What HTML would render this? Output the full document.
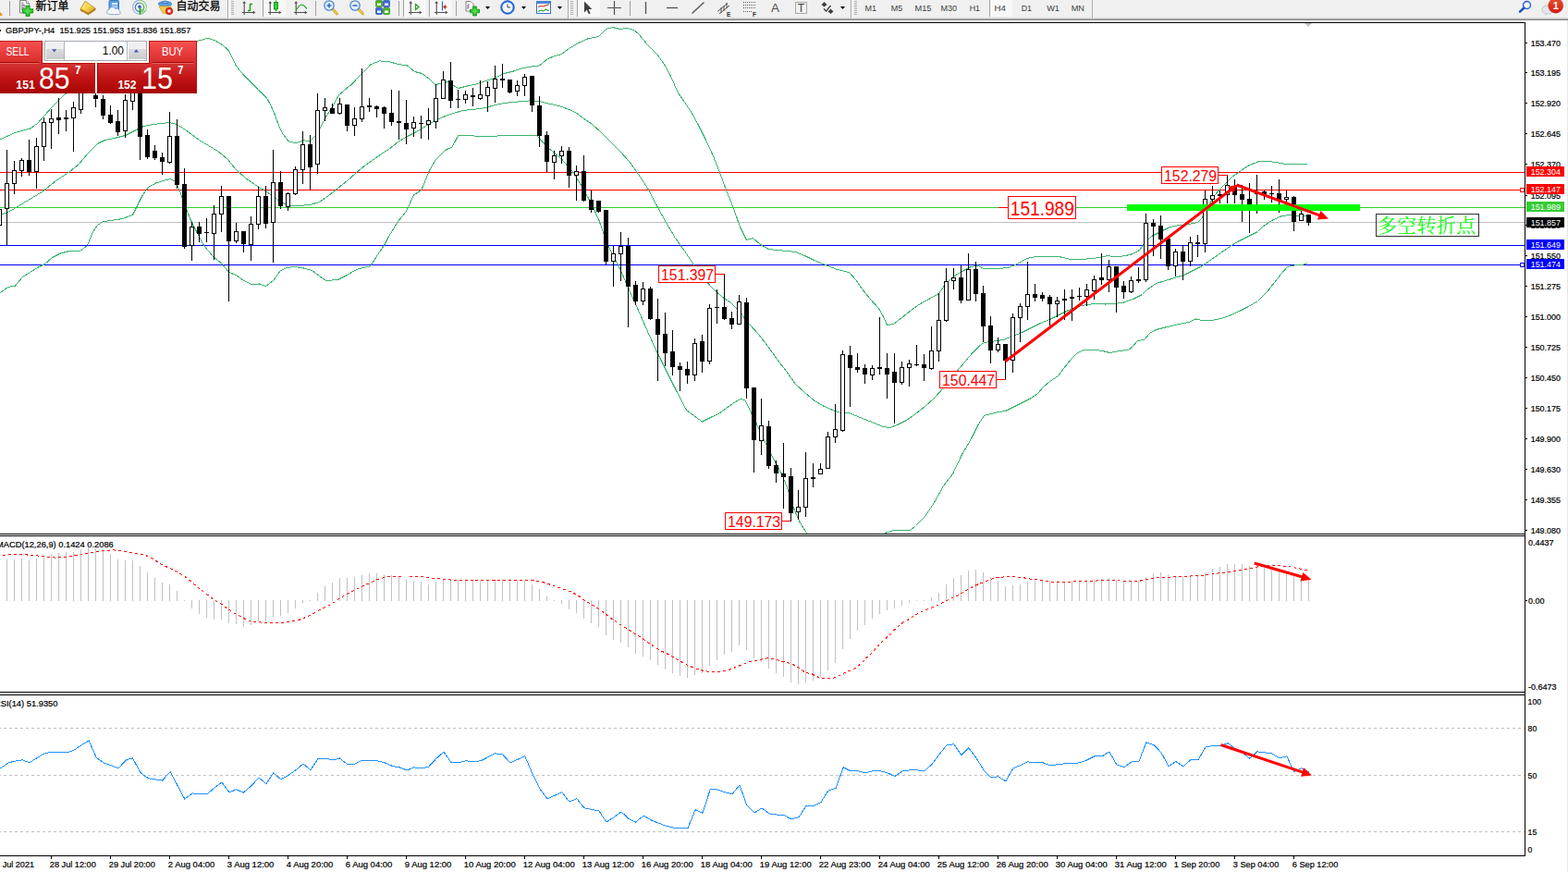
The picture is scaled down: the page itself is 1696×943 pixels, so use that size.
<!DOCTYPE html><html><head><meta charset="utf-8"><title>GBPJPY H4</title><style>html,body{margin:0;padding:0;background:#fff}body{width:1696px;height:943px;overflow:hidden}svg{display:block}text{font-family:"Liberation Sans",sans-serif;white-space:pre}</style></head><body>
<svg width="1696" height="943" viewBox="0 0 1696 943">
<defs>
<clipPath id="cm"><rect x="0" y="25" width="1649" height="552"/></clipPath>
<linearGradient id="gsell" x1="0" y1="0" x2="0" y2="1"><stop offset="0" stop-color="#f85252"/><stop offset="1" stop-color="#d82c2c"/></linearGradient>
<linearGradient id="gtile" x1="0" y1="0" x2="0" y2="1"><stop offset="0" stop-color="#d63434"/><stop offset="0.5" stop-color="#c01414"/><stop offset="1" stop-color="#a80404"/></linearGradient>
<linearGradient id="gbtn" x1="0" y1="0" x2="0" y2="1"><stop offset="0" stop-color="#dcdcde"/><stop offset="1" stop-color="#cacacc"/></linearGradient>
<linearGradient id="gbadge" x1="0" y1="0" x2="0" y2="1"><stop offset="0" stop-color="#e85030"/><stop offset="1" stop-color="#d01c10"/></linearGradient>
<radialGradient id="gplus" cx="0.5" cy="0.5" r="0.6"><stop offset="0" stop-color="#58ec58"/><stop offset="1" stop-color="#18b018"/></radialGradient>
<linearGradient id="gbook" x1="0" y1="0" x2="1" y2="1"><stop offset="0" stop-color="#f0c040"/><stop offset="0.45" stop-color="#fadc50"/><stop offset="1" stop-color="#cc9420"/></linearGradient>
</defs>
<rect width="1696" height="943" fill="#fff"/>
<g shape-rendering="crispEdges">
<g clip-path="url(#cm)">
<rect x="0" y="186" width="1649" height="1" fill="#ff0000"/>
<rect x="0" y="205" width="1649" height="1" fill="#ff0000"/>
<rect x="0" y="224" width="1649" height="1" fill="#32cd32"/>
<rect x="0" y="240" width="1649" height="1" fill="#c0c0c0"/>
<rect x="0" y="265" width="1649" height="1" fill="#0000ff"/>
<rect x="0" y="286" width="1649" height="1" fill="#0000ff"/>
<polyline points="0.5,150.5 16.5,143.5 32.5,139 40.5,133.5 48.5,124.5 56.5,115.5 64.5,107.5 68.5,103.5 100.5,75.5 150.5,58.5 190.5,49.5 205.5,46 212.5,44.5 215.6,43.9 224.4,41.4 232.3,43.6 240.3,48.4 247.4,54.7 251.4,62.7 255.4,71.4 264.1,81.8 272.1,89.7 280,97.7 288.8,106.4 292.8,113.6 297.5,124.7 302.3,137.5 306.3,145.4 311.9,152.6 319.8,154.9 327.8,151.8 335.7,152.6 340.5,147.8 346.1,139 351.6,127.9 359.6,115.2 366.7,102.5 372.3,97.7 380.3,91.3 391.4,79.4 400.9,69.8 410.5,65.9 420.5,66.5 430.5,69.5 440.5,71 448.5,77.5 456.5,79.5 464.5,85.5 470.5,91.5 476.5,90.5 484.5,88.5 495.5,95.5 505.5,93 515.5,91 525.5,87.5 535.5,84 545.5,79.5 555.5,77 565.5,73.5 575.5,72 583.5,71 592.5,63.5 600.5,60.5 607.5,58.5 615.5,52.5 625.5,46.5 635.5,42 647.5,39.5 655.5,31.5 662.5,29.5 670.5,31.5 678.5,30.5 685.5,32.5 690.5,36.5 700.5,48.5 710.5,58.5 718.5,69.5 725.5,82.5 733.5,100.5 740.5,110.5 748.5,122.5 755.5,135.5 762.5,149.5 770.5,166.5 778.5,186.5 785.5,205.5 793.5,225.5 800.5,245.5 807.5,259.5 814.5,257.5 822.5,264.5 831.5,269.5 845.5,271 860.5,272.5 870.5,276.5 880.5,281.5 890.5,285.5 905.5,291.5 918.5,294.5 925.5,302.5 932.5,312.5 940.5,322.5 950.5,333.5 955.5,342.5 959.5,351.5 966.5,350.5 975.5,343.5 985.5,335.5 995.5,328.5 1005.5,323 1015.5,317.5 1022.5,307.5 1030.5,299.5 1040.5,293.5 1050.5,288.5 1057.5,287 1063.5,290.5 1075.5,291 1090.5,289.5 1100.5,285.5 1110.5,279.5 1120.5,277.5 1135.5,277.5 1147.5,278 1160.5,281 1175.5,280 1190.5,278.5 1197.5,276.5 1207.5,278 1217.5,276.5 1225.5,274.5 1232.5,270.5 1238.5,262.5 1245.5,255.5 1255.5,250.5 1265.5,245.5 1275.5,243.5 1285.5,242.5 1295.5,240.5 1300.5,235.5 1306.5,224.5 1312.5,212.5 1322.5,201.5 1332.5,191.5 1342.5,184.5 1350.5,179 1360.5,175 1370.5,174.5 1380.5,175.5 1390.5,177.5 1400.5,178 1414.5,177.5" fill="none" stroke="#3cb371" stroke-width="1" />
<polyline points="0.5,232.5 10.5,228.5 20.5,222.5 30.5,216.5 45.5,207.5 60.5,195.5 75.5,185.5 85.5,177.5 95.5,165.5 105.5,155.5 113.5,151.5 125.5,149 135.5,146.5 145.5,141.5 155.5,136.5 165.5,134.5 175.5,133.5 183.5,132.5 190.5,134.5 197.5,138.5 205.5,144 215.5,151.5 225.5,157.5 235.5,163.5 245.5,171.5 255.5,183.5 265.5,192.5 275.5,199.5 285.5,205.5 295.5,212.5 303.5,218.5 312.5,222 322.5,222.5 335.5,221.5 345.5,218.5 355.5,211.5 365.5,203.5 375.5,195.5 385.5,186.5 395.5,178.5 405.5,171.5 415.5,164.5 420.5,161.5 430.5,153.5 440.5,147.5 450.5,142.5 460.5,136.5 470.5,130.5 480.5,126 490.5,122.5 500.5,119.5 515.5,118 525.5,116.5 535.5,113.5 545.5,111.5 560.5,110 572.5,109 583.5,109.5 590.5,111.5 600.5,113.5 607.5,115.5 615.5,118.5 622.5,121.5 630.5,127.5 640.5,134.5 650.5,143.5 660.5,153.5 670.5,163.5 680.5,174.5 690.5,188.5 700.5,203.5 710.5,222.5 720.5,240.5 730.5,257.5 740.5,271.5 750.5,286.5 760.5,300.5 770.5,311.5 780.5,320.5 790.5,327.5 800.5,337.5 810.5,350.5 820.5,361.5 830.5,374.5 840.5,388.5 850.5,401.5 860.5,415.5 870.5,424.5 880.5,433 890.5,439 900.5,443.5 910.5,447 918.5,446.5 925.5,449.5 935.5,453.5 945.5,457.5 955.5,461.5 962.5,462.5 970.5,459.5 980.5,454.5 990.5,447.5 1000.5,439.5 1010.5,430.5 1020.5,419.5 1030.5,407.5 1035.5,401 1043.5,391.5 1051.5,382 1059.5,374 1064.5,370.5 1075.5,369 1085.5,367.5 1095.5,363.5 1105.5,359.5 1115.5,354.5 1125.5,349.5 1135.5,345.5 1145.5,340.5 1155.5,335.5 1165.5,331.5 1175.5,329.5 1185.5,328.5 1195.5,329 1205.5,328.5 1215.5,327 1225.5,323.5 1235.5,318.5 1240.5,313.5 1250.5,306.5 1260.5,303.5 1270.5,300.5 1280.5,297.5 1290.5,292.5 1300.5,287.5 1310.5,280.5 1320.5,273.5 1330.5,266.5 1340.5,260.5 1350.5,255.5 1360.5,250.5 1365.5,245.5 1375.5,238.5 1385.5,234 1393.5,232.5 1400.5,233.5 1414.5,233" fill="none" stroke="#3cb371" stroke-width="1" />
<polyline points="0.5,316.5 8.5,310.5 16.5,309 24.5,299.5 32.5,294.5 40.5,289.5 48.5,285.5 56.5,278.5 65.5,274 75.5,271.5 87.5,271 94.5,265.5 100.5,250.5 105.5,243.5 111.5,239.5 120.5,238.5 132.5,236.5 143.5,232.5 148.5,222.5 154.5,210.5 160.5,202.5 168.5,198 176.5,195.5 183.5,193.5 188.5,195.5 193.5,203.5 199.5,220.5 205.5,236.5 212.5,250.5 220.5,265.5 230.5,277.5 240.5,285.5 247.5,294.5 255.5,297.5 263.5,303.5 272.5,307.5 280.5,307 287.5,309.5 295.5,303.5 303.5,292.5 310.5,289.5 318.5,288.5 328.5,290 337.5,292.5 345.5,298.5 352.5,303.5 365.5,302.5 375.5,297.5 385.5,291.5 392.5,289.5 400.5,288 408.5,275.5 415.5,265.5 420.5,255.5 424.5,249.5 430,240 439.5,228.5 447.2,211.3 455.8,205.5 464.4,184.5 471.1,173.1 481.5,162.5 489.2,158.8 495.9,146 500.5,146.5 525.5,147.5 550.5,146.5 580.5,146.5 592.5,159.5 607.5,172 620.5,187 632.5,207 640.5,222 647.5,237 655.5,260.5 662.5,275.5 670.5,290.5 680.5,313.5 690.5,335.5 700.5,358.5 710.5,380.5 720.5,400.5 730.5,420.5 742.5,443.5 750.5,449.5 759.5,456 768.5,451.5 777.5,447.5 785.5,441.5 792.5,436.5 800.5,431.5 805.5,432.5 808.5,437.5 813.5,448.5 818.5,458.5 825.5,473.5 832.5,488.5 838.5,499.5 845.5,512.5 851.5,527.5 856.5,543.5 860.5,554.5 865.5,565.5 872.5,576.5 876.5,582.5" fill="none" stroke="#3cb371" stroke-width="1" />
<polyline points="953.5,582.5 958.5,575.8 965.5,574 975.5,573.5 984.5,573.5 990.5,568.5 1000.5,558.5 1010.5,543.5 1020.5,525.5 1030.5,512.5 1040.5,491.5 1050.5,474.5 1058.5,458.5 1064.5,449.5 1075.5,446.5 1087.5,444.5 1095.5,440.5 1105.5,435.5 1115.5,430.5 1122.5,425.5 1128.5,418.5 1135.5,412.5 1144.5,406.5 1150.5,398.5 1158.5,388.5 1165.5,381.5 1172.5,378.5 1185.5,378.5 1192.5,379.5 1200.5,381.5 1210.5,379.5 1220.5,378.5 1225.5,374.5 1230.5,368.5 1237.5,367.5 1243.5,360.5 1250.5,356.5 1260.5,354 1275.5,350.5 1285.5,348.5 1293.5,345 1300.5,346.5 1310.5,346.5 1320.5,344.5 1330.5,341 1340.5,336.5 1350.5,331.5 1360.5,325.5 1370.5,315.5 1378.5,305.5 1385.5,296.5 1392.5,288.5 1400.5,287 1408.5,286.5 1414.5,284.5" fill="none" stroke="#3cb371" stroke-width="1" />
<path d="M-1 226v18h1v-18zM7 162v103h1v-103zM15 174v36h1v-36zM23 171v20h1v-20zM31 151v39h1v-39zM39 149v55h1v-55zM47 127v47h1v-47zM55 118v43h1v-43zM63 106v39h1v-39zM71 119v23h1v-23zM79 110v54h1v-54zM87 95v28h1v-28zM95 95v5h1v-5zM103 100v16h1v-16zM111 103v26h1v-26zM119 114v20h1v-20zM127 119v28h1v-28zM135 102v47h1v-47zM143 95v24h1v-24zM151 98v75h1v-75zM159 140v32h1v-32zM167 157v16h1v-16zM175 165v24h1v-24zM183 121v56h1v-56zM191 129v75h1v-75zM199 182v87h1v-87zM207 240v42h1v-42zM215 240v22h1v-22zM223 236v26h1v-26zM231 222v59h1v-59zM239 201v50h1v-50zM247 212v114h1v-114zM255 241v22h1v-22zM263 250v23h1v-23zM271 234v48h1v-48zM279 202v46h1v-46zM287 201v46h1v-46zM295 162v122h1v-122zM303 185v41h1v-41zM311 208v20h1v-20zM319 180v31h1v-31zM327 142v57h1v-57zM335 146v59h1v-59zM343 101v87h1v-87zM351 106v25h1v-25zM359 112v11h1v-11zM367 106v18h1v-18zM375 113v29h1v-29zM383 116v31h1v-31zM391 74v58h1v-58zM399 106v15h1v-15zM407 114v13h1v-13zM415 115v24h1v-24zM423 97v39h1v-39zM431 98v53h1v-53zM439 108v48h1v-48zM447 126v22h1v-22zM455 125v25h1v-25zM463 117v34h1v-34zM471 91v48h1v-48zM479 77v30h1v-30zM487 67v50h1v-50zM495 97v20h1v-20zM503 98v14h1v-14zM511 95v20h1v-20zM519 87v21h1v-21zM527 88v33h1v-33zM535 71v40h1v-40zM543 69v26h1v-26zM551 86v15h1v-15zM559 87v17h1v-17zM567 80v24h1v-24zM575 82v39h1v-39zM583 104v55h1v-55zM591 142v44h1v-44zM599 163v31h1v-31zM607 158v19h1v-19zM615 159v44h1v-44zM623 179v38h1v-38zM631 168v50h1v-50zM639 206v24h1v-24zM647 217v13h1v-13zM655 227v59h1v-59zM663 266v44h1v-44zM671 251v53h1v-53zM679 257v97h1v-97zM687 304v26h1v-26zM695 305v25h1v-25zM703 310v36h1v-36zM711 323v89h1v-89zM719 338v58h1v-58zM727 357v49h1v-49zM735 392v31h1v-31zM743 391v24h1v-24zM751 366v46h1v-46zM759 362v41h1v-41zM767 329v65h1v-65zM775 313v37h1v-37zM783 296v50h1v-50zM791 337v19h1v-19zM799 319v32h1v-32zM807 322v109h1v-109zM815 419v92h1v-92zM823 431v61h1v-61zM831 455v52h1v-52zM839 498v24h1v-24zM847 479v71h1v-71zM855 506v58h1v-58zM863 530v32h1v-32zM871 489v70h1v-70zM879 501v26h1v-26zM887 501v12h1v-12zM895 467v40h1v-40zM903 437v42h1v-42zM911 379v88h1v-88zM919 374v66h1v-66zM927 382v21h1v-21zM935 394v21h1v-21zM943 395v16h1v-16zM951 343v62h1v-62zM959 382v49h1v-49zM967 382v76h1v-76zM975 391v25h1v-25zM983 389v29h1v-29zM991 373v23h1v-23zM999 383v29h1v-29zM1007 353v47h1v-47zM1015 317v74h1v-74zM1023 290v58h1v-58zM1031 290v23h1v-23zM1039 287v41h1v-41zM1047 274v51h1v-51zM1055 283v43h1v-43zM1063 309v61h1v-61zM1071 342v51h1v-51zM1079 365v16h1v-16zM1087 372v39h1v-39zM1095 339v64h1v-64zM1103 328v42h1v-42zM1111 283v63h1v-63zM1119 307v19h1v-19zM1127 316v10h1v-10zM1135 319v33h1v-33zM1143 321v22h1v-22zM1151 313v33h1v-33zM1159 313v34h1v-34zM1167 311v14h1v-14zM1175 307v24h1v-24zM1183 298v26h1v-26zM1191 274v34h1v-34zM1199 281v35h1v-35zM1207 288v50h1v-50zM1215 304v19h1v-19zM1223 299v18h1v-18zM1231 289v17h1v-17zM1239 231v74h1v-74zM1247 237v40h1v-40zM1255 233v47h1v-47zM1263 258v34h1v-34zM1271 269v30h1v-30zM1279 265v38h1v-38zM1287 256v32h1v-32zM1295 254v24h1v-24zM1303 206v67h1v-67zM1311 201v18h1v-18zM1319 206v14h1v-14zM1327 190v30h1v-30zM1335 194v26h1v-26zM1343 200v40h1v-40zM1351 198v54h1v-54zM1359 189v42h1v-42zM1367 206v10h1v-10zM1375 201v18h1v-18zM1383 194v36h1v-36zM1391 206v13h1v-13zM1399 212v38h1v-38zM1407 228v11h1v-11zM1415 232v12h1v-12z" fill="#000"/>
<path d="M-3 226h5v18h-5zM5 198h5v28h-5zM13 184h5v15h-5zM21 173h5v12h-5zM29 173h5v13h-5zM37 158h5v28h-5zM45 132h5v27h-5zM53 128h5v5h-5zM61 127h5v3h-5zM69 127h5v2h-5zM77 116h5v12h-5zM85 100h5v19h-5zM93 96h5v4h-5zM101 103h5v4h-5zM109 107h5v18h-5zM117 124h5v9h-5zM125 131h5v12h-5zM133 108h5v34h-5zM141 98h5v12h-5zM149 99h5v49h-5zM157 146h5v24h-5zM165 163h5v8h-5zM173 170h5v5h-5zM181 147h5v29h-5zM189 147h5v53h-5zM197 199h5v68h-5zM205 245h5v21h-5zM213 245h5v8h-5zM221 251h5v1h-5zM229 231h5v22h-5zM237 212h5v20h-5zM245 212h5v49h-5zM253 250h5v11h-5zM261 250h5v14h-5zM269 242h5v23h-5zM277 212h5v31h-5zM285 212h5v30h-5zM293 197h5v44h-5zM301 197h5v26h-5zM309 209h5v15h-5zM317 183h5v27h-5zM325 156h5v28h-5zM333 156h5v25h-5zM341 119h5v59h-5zM349 116h5v4h-5zM357 117h5v6h-5zM365 112h5v11h-5zM373 113h5v23h-5zM381 128h5v8h-5zM389 115h5v14h-5zM397 114h5v2h-5zM405 115h5v3h-5zM413 116h5v7h-5zM421 122h5v10h-5zM429 131h5v2h-5zM437 133h5v7h-5zM445 132h5v7h-5zM453 133h5v1h-5zM461 130h5v5h-5zM469 106h5v26h-5zM477 86h5v21h-5zM485 87h5v22h-5zM493 107h5v1h-5zM501 102h5v6h-5zM509 103h5v2h-5zM517 102h5v5h-5zM525 94h5v10h-5zM533 85h5v11h-5zM541 85h5v2h-5zM549 86h5v14h-5zM557 92h5v7h-5zM565 83h5v10h-5zM573 82h5v32h-5zM581 114h5v33h-5zM589 146h5v29h-5zM597 168h5v8h-5zM605 163h5v6h-5zM613 163h5v27h-5zM621 185h5v5h-5zM629 185h5v32h-5zM637 216h5v11h-5zM645 217h5v12h-5zM653 227h5v56h-5zM661 274h5v9h-5zM669 266h5v9h-5zM677 266h5v44h-5zM685 308h5v18h-5zM693 312h5v14h-5zM701 312h5v33h-5zM709 345h5v17h-5zM717 361h5v21h-5zM725 380h5v17h-5zM733 396h5v4h-5zM741 399h5v7h-5zM749 371h5v35h-5zM757 369h5v22h-5zM765 333h5v58h-5zM773 332h5v1h-5zM781 332h5v13h-5zM789 344h5v7h-5zM797 326h5v25h-5zM805 327h5v93h-5zM813 419h5v57h-5zM821 460h5v17h-5zM829 461h5v43h-5zM837 503h5v9h-5zM845 512h5v4h-5zM853 515h5v40h-5zM861 548h5v6h-5zM869 517h5v32h-5zM877 516h5v2h-5zM885 507h5v6h-5zM893 472h5v35h-5zM901 464h5v9h-5zM909 383h5v83h-5zM917 384h5v14h-5zM925 397h5v3h-5zM933 398h5v7h-5zM941 398h5v8h-5zM949 397h5v2h-5zM957 398h5v7h-5zM965 402h5v12h-5zM973 397h5v17h-5zM981 393h5v5h-5zM989 394h5v1h-5zM997 394h5v4h-5zM1005 379h5v20h-5zM1013 346h5v34h-5zM1021 304h5v43h-5zM1029 300h5v4h-5zM1037 300h5v25h-5zM1045 291h5v34h-5zM1053 291h5v27h-5zM1061 317h5v36h-5zM1069 352h5v27h-5zM1077 372h5v7h-5zM1085 372h5v18h-5zM1093 343h5v47h-5zM1101 331h5v13h-5zM1109 318h5v14h-5zM1117 318h5v4h-5zM1125 319h5v4h-5zM1133 321h5v8h-5zM1141 325h5v4h-5zM1149 323h5v2h-5zM1157 321h5v2h-5zM1165 320h5v1h-5zM1173 313h5v8h-5zM1181 302h5v13h-5zM1189 300h5v3h-5zM1197 288h5v15h-5zM1205 288h5v23h-5zM1213 309h5v7h-5zM1221 303h5v13h-5zM1229 302h5v2h-5zM1237 241h5v62h-5zM1245 241h5v4h-5zM1253 244h5v15h-5zM1261 258h5v30h-5zM1269 272h5v16h-5zM1277 272h5v11h-5zM1285 262h5v21h-5zM1293 262h5v2h-5zM1301 215h5v49h-5zM1309 211h5v5h-5zM1317 210h5v2h-5zM1325 200h5v11h-5zM1333 201h5v10h-5zM1341 210h5v6h-5zM1349 215h5v7h-5zM1357 209h5v1h-5zM1365 207h5v3h-5zM1373 209h5v1h-5zM1381 209h5v7h-5zM1389 213h5v3h-5zM1397 213h5v27h-5zM1405 231h5v8h-5zM1413 232h5v9h-5z" fill="#000"/>
<path d="M-2 227h3v16h-3zM6 199h3v26h-3zM14 185h3v13h-3zM22 174h3v10h-3zM38 159h3v26h-3zM46 133h3v25h-3zM54 129h3v3h-3zM78 117h3v10h-3zM86 101h3v17h-3zM94 97h3v2h-3zM134 109h3v32h-3zM142 99h3v10h-3zM182 148h3v27h-3zM206 246h3v19h-3zM230 232h3v20h-3zM238 213h3v18h-3zM254 251h3v9h-3zM270 243h3v21h-3zM278 213h3v29h-3zM294 198h3v42h-3zM310 210h3v13h-3zM318 184h3v25h-3zM326 157h3v26h-3zM342 120h3v57h-3zM350 117h3v2h-3zM366 113h3v9h-3zM382 129h3v6h-3zM390 116h3v12h-3zM446 133h3v5h-3zM462 131h3v3h-3zM470 107h3v24h-3zM478 87h3v19h-3zM502 103h3v4h-3zM518 103h3v3h-3zM526 95h3v8h-3zM534 86h3v9h-3zM558 93h3v5h-3zM566 84h3v8h-3zM598 169h3v6h-3zM606 164h3v4h-3zM622 186h3v3h-3zM662 275h3v7h-3zM670 267h3v7h-3zM694 313h3v12h-3zM750 372h3v33h-3zM766 334h3v56h-3zM798 327h3v23h-3zM822 461h3v15h-3zM862 549h3v4h-3zM870 518h3v30h-3zM886 508h3v4h-3zM894 473h3v33h-3zM902 465h3v7h-3zM910 384h3v81h-3zM942 399h3v6h-3zM974 398h3v15h-3zM982 394h3v3h-3zM1006 380h3v18h-3zM1014 347h3v32h-3zM1022 305h3v41h-3zM1030 301h3v2h-3zM1046 292h3v32h-3zM1078 373h3v5h-3zM1094 344h3v45h-3zM1102 332h3v11h-3zM1110 319h3v12h-3zM1142 326h3v2h-3zM1174 314h3v6h-3zM1182 303h3v11h-3zM1198 289h3v13h-3zM1222 304h3v11h-3zM1238 242h3v60h-3zM1270 273h3v14h-3zM1286 263h3v19h-3zM1302 216h3v47h-3zM1310 212h3v3h-3zM1326 201h3v9h-3zM1390 214h3v1h-3zM1406 232h3v6h-3z" fill="#fff"/>
<rect x="1219" y="221" width="252" height="7" fill="#00ff00"/>
</g>
</g>
<line x1="1087.5" y1="390.7" x2="1332.6" y2="204.3" stroke="#ff0000" stroke-width="3.0"/><polygon points="1339,199.5 1333.8,209.1 1328.3,202" fill="#ff0000"/>
<line x1="1337.5" y1="200" x2="1428.6" y2="233.4" stroke="#ff0000" stroke-width="3.0"/><polygon points="1437,236.5 1425,237.4 1428.4,228" fill="#ff0000"/>
<rect x="774" y="296" width="10" height="1" fill="#ff0000" shape-rendering="crispEdges"/><rect x="712.5" y="287.5" width="61" height="18" fill="#fff" stroke="#ff0000" stroke-width="1" shape-rendering="crispEdges"/><text x="715.1" y="303" font-size="17" fill="#ff0000" textLength="57" lengthAdjust="spacingAndGlyphs" >151.397</text>
<rect x="846" y="563" width="9" height="1" fill="#ff0000" shape-rendering="crispEdges"/><rect x="784.5" y="554.5" width="61" height="18" fill="#fff" stroke="#ff0000" stroke-width="1" shape-rendering="crispEdges"/><text x="787.1" y="570" font-size="17" fill="#ff0000" textLength="57" lengthAdjust="spacingAndGlyphs" >149.173</text>
<rect x="1078" y="410" width="10" height="1" fill="#ff0000" shape-rendering="crispEdges"/><rect x="1016.5" y="401.5" width="61" height="18" fill="#fff" stroke="#ff0000" stroke-width="1" shape-rendering="crispEdges"/><text x="1019.1" y="417" font-size="17" fill="#ff0000" textLength="57" lengthAdjust="spacingAndGlyphs" >150.447</text>
<rect x="1318" y="189" width="10" height="1" fill="#ff0000" shape-rendering="crispEdges"/><rect x="1256.5" y="180.5" width="61" height="18" fill="#fff" stroke="#ff0000" stroke-width="1" shape-rendering="crispEdges"/><text x="1259.1" y="196" font-size="17" fill="#ff0000" textLength="57" lengthAdjust="spacingAndGlyphs" >152.279</text>
<rect x="1080" y="224" width="10" height="1" fill="#ff0000" shape-rendering="crispEdges"/>
<rect x="1090.5" y="212.5" width="73" height="24" fill="#fff" stroke="#ff0000" stroke-width="1" shape-rendering="crispEdges"/>
<text x="1092.8" y="233" font-size="22.5" fill="#ff0000" textLength="69" lengthAdjust="spacingAndGlyphs" >151.989</text>
<rect x="1488.5" y="231.5" width="111" height="24" fill="none" stroke="#333" stroke-width="1" shape-rendering="crispEdges"/>
<text x="1489.8" y="251" font-size="21" fill="#00ff00" textLength="106.2" lengthAdjust="spacing" style="font-family:'Liberation Serif','Noto Serif CJK SC',serif">多空转折点</text>
<g shape-rendering="crispEdges" fill="#000">
<rect x="0" y="24" width="1650" height="1"/>
<rect x="1649" y="24" width="1" height="902"/>
<rect x="0" y="577" width="1650" height="1"/><rect x="0" y="579" width="1650" height="1"/>
<rect x="0" y="748" width="1650" height="1"/><rect x="0" y="751" width="1650" height="1"/>
<rect x="0" y="925" width="1650" height="1"/>
<rect x="1650" y="46" width="2" height="1"/>
<rect x="1650" y="78" width="2" height="1"/>
<rect x="1650" y="111" width="2" height="1"/>
<rect x="1650" y="144" width="2" height="1"/>
<rect x="1650" y="177" width="2" height="1"/>
<rect x="1650" y="211" width="2" height="1"/>
<rect x="1650" y="243" width="2" height="1"/>
<rect x="1650" y="276" width="2" height="1"/>
<rect x="1650" y="309" width="2" height="1"/>
<rect x="1650" y="342" width="2" height="1"/>
<rect x="1650" y="375" width="2" height="1"/>
<rect x="1650" y="408" width="2" height="1"/>
<rect x="1650" y="441" width="2" height="1"/>
<rect x="1650" y="474" width="2" height="1"/>
<rect x="1650" y="507" width="2" height="1"/>
<rect x="1650" y="540" width="2" height="1"/>
<rect x="1650" y="573" width="2" height="1"/>
<rect x="1650" y="649" width="2" height="1"/>
<rect x="55" y="926" width="1" height="3"/>
<rect x="119" y="926" width="1" height="3"/>
<rect x="183" y="926" width="1" height="3"/>
<rect x="247" y="926" width="1" height="3"/>
<rect x="311" y="926" width="1" height="3"/>
<rect x="375" y="926" width="1" height="3"/>
<rect x="439" y="926" width="1" height="3"/>
<rect x="503" y="926" width="1" height="3"/>
<rect x="567" y="926" width="1" height="3"/>
<rect x="631" y="926" width="1" height="3"/>
<rect x="695" y="926" width="1" height="3"/>
<rect x="759" y="926" width="1" height="3"/>
<rect x="823" y="926" width="1" height="3"/>
<rect x="887" y="926" width="1" height="3"/>
<rect x="951" y="926" width="1" height="3"/>
<rect x="1015" y="926" width="1" height="3"/>
<rect x="1079" y="926" width="1" height="3"/>
<rect x="1143" y="926" width="1" height="3"/>
<rect x="1207" y="926" width="1" height="3"/>
<rect x="1271" y="926" width="1" height="3"/>
<rect x="1335" y="926" width="1" height="3"/>
<rect x="1399" y="926" width="1" height="3"/>
</g>
<text x="1655.7" y="50" font-size="9.2" fill="#000" textLength="32.3" lengthAdjust="spacingAndGlyphs" stroke="#000" stroke-width="0.22">153.470</text>
<text x="1655.7" y="82" font-size="9.2" fill="#000" textLength="32.3" lengthAdjust="spacingAndGlyphs" stroke="#000" stroke-width="0.22">153.195</text>
<text x="1655.7" y="115" font-size="9.2" fill="#000" textLength="32.3" lengthAdjust="spacingAndGlyphs" stroke="#000" stroke-width="0.22">152.920</text>
<text x="1655.7" y="148" font-size="9.2" fill="#000" textLength="32.3" lengthAdjust="spacingAndGlyphs" stroke="#000" stroke-width="0.22">152.645</text>
<text x="1655.7" y="181" font-size="9.2" fill="#000" textLength="32.3" lengthAdjust="spacingAndGlyphs" stroke="#000" stroke-width="0.22">152.370</text>
<text x="1655.7" y="215" font-size="9.2" fill="#000" textLength="32.3" lengthAdjust="spacingAndGlyphs" stroke="#000" stroke-width="0.22">152.095</text>
<text x="1655.7" y="247" font-size="9.2" fill="#000" textLength="32.3" lengthAdjust="spacingAndGlyphs" stroke="#000" stroke-width="0.22">151.820</text>
<text x="1655.7" y="280" font-size="9.2" fill="#000" textLength="32.3" lengthAdjust="spacingAndGlyphs" stroke="#000" stroke-width="0.22">151.550</text>
<text x="1655.7" y="313" font-size="9.2" fill="#000" textLength="32.3" lengthAdjust="spacingAndGlyphs" stroke="#000" stroke-width="0.22">151.275</text>
<text x="1655.7" y="346" font-size="9.2" fill="#000" textLength="32.3" lengthAdjust="spacingAndGlyphs" stroke="#000" stroke-width="0.22">151.000</text>
<text x="1655.7" y="379" font-size="9.2" fill="#000" textLength="32.3" lengthAdjust="spacingAndGlyphs" stroke="#000" stroke-width="0.22">150.725</text>
<text x="1655.7" y="412" font-size="9.2" fill="#000" textLength="32.3" lengthAdjust="spacingAndGlyphs" stroke="#000" stroke-width="0.22">150.450</text>
<text x="1655.7" y="445" font-size="9.2" fill="#000" textLength="32.3" lengthAdjust="spacingAndGlyphs" stroke="#000" stroke-width="0.22">150.175</text>
<text x="1655.7" y="478" font-size="9.2" fill="#000" textLength="32.3" lengthAdjust="spacingAndGlyphs" stroke="#000" stroke-width="0.22">149.900</text>
<text x="1655.7" y="511" font-size="9.2" fill="#000" textLength="32.3" lengthAdjust="spacingAndGlyphs" stroke="#000" stroke-width="0.22">149.630</text>
<text x="1655.7" y="544" font-size="9.2" fill="#000" textLength="32.3" lengthAdjust="spacingAndGlyphs" stroke="#000" stroke-width="0.22">149.355</text>
<text x="1655.7" y="577" font-size="9.2" fill="#000" textLength="32.3" lengthAdjust="spacingAndGlyphs" stroke="#000" stroke-width="0.22">149.080</text>
<rect x="1651" y="180" width="41" height="11" fill="#ff0000" shape-rendering="crispEdges"/><text x="1655.7" y="188.6" font-size="9.2" fill="#fff" textLength="32.3" lengthAdjust="spacingAndGlyphs" >152.304</text>
<rect x="1651" y="199" width="41" height="11" fill="#ff0000" shape-rendering="crispEdges"/><text x="1655.7" y="207.6" font-size="9.2" fill="#fff" textLength="32.3" lengthAdjust="spacingAndGlyphs" >152.147</text>
<rect x="1651" y="218" width="41" height="11" fill="#32cd32" shape-rendering="crispEdges"/><text x="1655.7" y="226.6" font-size="9.2" fill="#fff" textLength="32.3" lengthAdjust="spacingAndGlyphs" >151.989</text>
<rect x="1651" y="235" width="41" height="11" fill="#000000" shape-rendering="crispEdges"/><text x="1655.7" y="243.6" font-size="9.2" fill="#fff" textLength="32.3" lengthAdjust="spacingAndGlyphs" >151.857</text>
<rect x="1651" y="259" width="41" height="11" fill="#0000ff" shape-rendering="crispEdges"/><text x="1655.7" y="267.6" font-size="9.2" fill="#fff" textLength="32.3" lengthAdjust="spacingAndGlyphs" >151.649</text>
<rect x="1651" y="280" width="41" height="11" fill="#0000ff" shape-rendering="crispEdges"/><text x="1655.7" y="288.6" font-size="9.2" fill="#fff" textLength="32.3" lengthAdjust="spacingAndGlyphs" >151.474</text>
<rect x="1644.5" y="203.5" width="4" height="4" fill="#fff" stroke="#ff0000" shape-rendering="crispEdges"/>
<rect x="1644.5" y="284.5" width="4" height="4" fill="#fff" stroke="#0000ff" shape-rendering="crispEdges"/>
<polygon points="1411,25 1419,25 1415,29" fill="#c0c0c0"/>
<g shape-rendering="crispEdges">
<path d="M7 605v45h1v-45zM15 605v45h1v-45zM23 604v46h1v-46zM31 606v44h1v-44zM39 604v46h1v-46zM47 602v48h1v-48zM55 599v51h1v-51zM63 598v52h1v-52zM71 597v53h1v-53zM79 597v53h1v-53zM87 594v56h1v-56zM95 592v58h1v-58zM103 593v57h1v-57zM111 596v54h1v-54zM119 599v51h1v-51zM127 605v45h1v-45zM135 606v44h1v-44zM143 606v44h1v-44zM151 612v38h1v-38zM159 619v31h1v-31zM167 625v25h1v-25zM175 630v20h1v-20zM183 632v18h1v-18zM191 639v11h1v-11zM199 649h1v1h-1zM207 649v9h1v-9zM215 649v15h1v-15zM223 649v19h1v-19zM231 649v21h1v-21zM239 649v21h1v-21zM247 649v25h1v-25zM255 649v26h1v-26zM263 649v29h1v-29zM271 649v27h1v-27zM279 649v23h1v-23zM287 649v25h1v-25zM295 649v19h1v-19zM303 649v17h1v-17zM311 649v14h1v-14zM319 649v9h1v-9zM327 649v3h1v-3zM335 649h1v1h-1zM343 641v9h1v-9zM351 634v16h1v-16zM359 630v20h1v-20zM367 625v25h1v-25zM375 625v25h1v-25zM383 624v26h1v-26zM391 622v28h1v-28zM399 620v30h1v-30zM407 620v30h1v-30zM415 621v29h1v-29zM423 622v28h1v-28zM431 624v26h1v-26zM439 627v23h1v-23zM447 628v22h1v-22zM455 629v21h1v-21zM463 632v18h1v-18zM471 629v21h1v-21zM479 626v24h1v-24zM487 626v24h1v-24zM495 627v23h1v-23zM503 628v22h1v-22zM511 628v22h1v-22zM519 628v22h1v-22zM527 627v23h1v-23zM535 627v23h1v-23zM543 626v24h1v-24zM551 626v24h1v-24zM559 627v23h1v-23zM567 628v22h1v-22zM575 632v18h1v-18zM583 637v13h1v-13zM591 645v5h1v-5zM599 649h1v1h-1zM607 649v4h1v-4zM615 649v10h1v-10zM623 649v14h1v-14zM631 649v20h1v-20zM639 649v25h1v-25zM647 649v29h1v-29zM655 649v38h1v-38zM663 649v43h1v-43zM671 649v46h1v-46zM679 649v51h1v-51zM687 649v58h1v-58zM695 649v61h1v-61zM703 649v65h1v-65zM711 649v70h1v-70zM719 649v75h1v-75zM727 649v79h1v-79zM735 649v82h1v-82zM743 649v84h1v-84zM751 649v81h1v-81zM759 649v79h1v-79zM767 649v71h1v-71zM775 649v65h1v-65zM783 649v59h1v-59zM791 649v56h1v-56zM799 649v49h1v-49zM807 649v54h1v-54zM815 649v63h1v-63zM823 649v67h1v-67zM831 649v74h1v-74zM839 649v79h1v-79zM847 649v83h1v-83zM855 649v89h1v-89zM863 649v91h1v-91zM871 649v89h1v-89zM879 649v87h1v-87zM887 649v83h1v-83zM895 649v76h1v-76zM903 649v68h1v-68zM911 649v53h1v-53zM919 649v42h1v-42zM927 649v33h1v-33zM935 649v27h1v-27zM943 649v20h1v-20zM951 649v15h1v-15zM959 649v11h1v-11zM967 649v9h1v-9zM975 649v6h1v-6zM983 649v3h1v-3zM991 649h1v1h-1zM999 649h1v1h-1zM1007 646v4h1v-4zM1015 641v9h1v-9zM1023 632v18h1v-18zM1031 625v25h1v-25zM1039 622v28h1v-28zM1047 617v33h1v-33zM1055 616v34h1v-34zM1063 619v31h1v-31zM1071 624v26h1v-26zM1079 628v22h1v-22zM1087 634v16h1v-16zM1095 633v17h1v-17zM1103 632v18h1v-18zM1111 629v21h1v-21zM1119 628v22h1v-22zM1127 628v22h1v-22zM1135 628v22h1v-22zM1143 628v22h1v-22zM1151 629v21h1v-21zM1159 628v22h1v-22zM1167 628v22h1v-22zM1175 628v22h1v-22zM1183 627v23h1v-23zM1191 626v24h1v-24zM1199 625v25h1v-25zM1207 627v23h1v-23zM1215 628v22h1v-22zM1223 628v22h1v-22zM1231 628v22h1v-22zM1239 624v26h1v-26zM1247 620v30h1v-30zM1255 619v31h1v-31zM1263 621v29h1v-29zM1271 623v27h1v-27zM1279 623v27h1v-27zM1287 622v28h1v-28zM1295 622v28h1v-28zM1303 619v31h1v-31zM1311 615v35h1v-35zM1319 613v37h1v-37zM1327 610v40h1v-40zM1335 610v40h1v-40zM1343 610v40h1v-40zM1351 612v38h1v-38zM1359 611v39h1v-39zM1367 614v36h1v-36zM1375 616v34h1v-34zM1383 617v33h1v-33zM1391 619v31h1v-31zM1399 622v28h1v-28zM1407 625v25h1v-25zM1415 626v24h1v-24z" fill="#c0c0c0"/>
<polyline points="3,600.2 13,599.8 24.2,599 30.5,600.2 40.5,601 50.5,602.2 60.5,603.2 70.5,602.2 80.5,601 88,599.8 95.5,597.8 105.5,596.5 113,595.5 123,594.8 130.5,596 140.5,597.2 150.5,599 160.5,601.5 168,606 175.5,610.8 185.5,615.2 193,619 200.5,624 208,630.2 215.5,636.5 223,642 230.5,647.8 238,652.2 245.5,657.8 253,662.8 260.5,667 268,670.8 275.5,672.2 285.5,673.5 295.5,674 305.5,673.5 315.5,672 325.5,669.8 333,666.5 340.5,662.8 348,658.2 355.5,654.8 363,650.2 370.5,645.2 378,641 385.5,637.2 393,633.5 400.5,630.2 408,626.5 415.5,624.5 424.5,623.2 437,623 449.5,623 459.5,624 469.5,625.5 479.5,626.2 487,627 499.5,627.5 512,628 524.5,627.8 537,627.2 549.5,627 564.5,627 577,627.8 587,629.5 594.5,632 602,634.8 609.5,637.2 617,639.8 624.5,643.5 632,649 639.5,653.5 647,657.8 654.5,663.5 662,669.5 669.5,674.5 677,679 684.5,684 692,688.5 699.5,694 707,699 714.5,703.5 722,707.2 729.5,711.5 737,715.8 744.5,719.8 752,722.8 759.5,725 767,726.5 774.5,726.8 782,726 789.5,724 797,721 804.5,718 812,715.2 822,713.5 829.5,711.8 837,712.8 848.5,715.8 856,717.8 863.5,721.5 871,727.2 878.5,729 886,732.8 893.5,734 901,733.5 908.5,730.2 916,726.5 923.5,723.5 931,717.8 938.5,710.2 946,702.8 953.5,694.5 961,687.8 968.5,680.2 976,673.5 983.5,669.5 991,664.5 998.5,660.8 1006,657.8 1013.5,654.8 1021,651 1028.5,647.2 1036,644 1043.5,639.5 1051,635.2 1058.5,631.5 1066,629 1073.5,625.8 1081,624.2 1088.5,623.8 1098.5,623.8 1106,624.5 1113.5,626 1123.5,627.2 1133.5,628.8 1143.5,629.5 1151,629.8 1161,629 1173.5,628.2 1186,628 1198.5,627.8 1211,628 1223.5,628 1233.5,628 1241,626.5 1248.5,625.5 1251,624.5 1263.5,624.2 1273.5,623.8 1281,623.5 1288.5,623 1298.5,622.5 1306,621.8 1313.5,620.5 1323.5,619.2 1331,618.5 1338.5,616.8 1346,615.5 1353.5,614.8 1358.5,613.2 1366,612.2 1376,611.8 1386,612 1396,613 1403.5,614.5 1411,616 1416,617.8" fill="none" stroke="#ff0000" stroke-width="1" stroke-dasharray="3 3"/>
</g>
<text x="-4" y="591.5" font-size="9.2" fill="#000" textLength="126.8" lengthAdjust="spacingAndGlyphs" stroke="#000" stroke-width="0.22">MACD(12,26,9) 0.1424 0.2086</text>
<text x="1653" y="589.5" font-size="9.2" fill="#000" textLength="27.5" lengthAdjust="spacingAndGlyphs" stroke="#000" stroke-width="0.22">0.4437</text>
<text x="1653" y="652.5" font-size="9.2" fill="#000" textLength="17.5" lengthAdjust="spacingAndGlyphs" stroke="#000" stroke-width="0.22">0.00</text>
<text x="1653" y="746" font-size="9.2" fill="#000" textLength="30.5" lengthAdjust="spacingAndGlyphs" stroke="#000" stroke-width="0.22">-0.6473</text>
<g shape-rendering="crispEdges">
<line x1="0" y1="787.5" x2="1649" y2="787.5" stroke="#c0c0c0" stroke-width="1" stroke-dasharray="3 3" stroke-dashoffset="2"/>
<line x1="0" y1="838.5" x2="1649" y2="838.5" stroke="#c0c0c0" stroke-width="1" stroke-dasharray="3 3" stroke-dashoffset="2"/>
<line x1="0" y1="899.5" x2="1649" y2="899.5" stroke="#c0c0c0" stroke-width="1" stroke-dasharray="3 3" stroke-dashoffset="2"/>
<polyline points="0.5,831 9.2,824.8 16.8,823 24.2,821.8 31.8,824.8 39.2,820.2 46.8,815.5 51.8,814 71.8,813.8 79.2,811.8 86.8,806.5 96.2,801 104.2,819.2 111.8,824.8 120.5,827.8 128,831 136.8,821.5 143.5,819.8 151.8,835.5 160.5,841.8 168,842.8 175.5,844 184.2,834.8 199.8,864 208,857.8 215.5,859 223.8,858.8 231.8,852.2 239.8,846 248,856.8 255.5,853.8 263.5,857 271.8,849.8 280,841 288,847.8 295.5,836 303.8,842.8 311.8,838.5 319.8,832.8 328,826 336,832.8 344.2,820 351.8,820 359.8,822 367.5,820 376,826.8 383.8,826 391.8,822 403,822 411.8,823.5 418,825.5 424.5,828.5 432,829.8 440,833 447.8,829.8 455.8,831 463.8,829 472,820.2 480,813 488.2,825 495.8,824.8 504,822.8 512,823.8 520,822.8 527.8,818.8 535.8,814.8 543.8,816 552,825 560,821.2 567.8,817.8 575.8,836.5 583.8,853 592,863.8 599.5,860.5 607.8,856.8 615.8,867 623.8,863.8 632,873.8 640,875.5 647.8,876.8 655.8,889 663.8,884 672,877.8 680,885.5 687.5,889 696.2,882 704,886.8 712,890 720,893 727.8,895 735.8,895 743.8,896 752,875.8 760,879.2 768.2,853.8 775.8,853.8 783.8,856.8 791.8,858.8 800,849 807.8,870.8 815.8,879 824,874 832,879.8 840,881 848.5,881.8 856,885.8 864,883.8 871.8,871.8 879.8,871.8 887.8,867.8 896,854.8 904,852.5 912.2,829.8 920.2,833.8 928.5,833.8 936,835.8 944,833.8 952.2,833.8 959.8,835.8 967.8,839.5 976,834 984,832.8 991.8,832.8 999.8,833.8 1007.8,826.8 1016,815.8 1024,805.8 1031.8,804.8 1039.8,816.8 1047.8,808.8 1056,819.8 1064,832.8 1071.8,840.8 1079.8,839.8 1087.8,844.8 1096,830.8 1104,827.5 1111.5,823.8 1119.8,824.8 1128,824.8 1136,827.8 1144,826.8 1151.8,825.8 1159.8,825.8 1167.8,824.8 1176,821.8 1184,817.8 1192.2,817.8 1199.8,813 1207.8,826.8 1215.8,829.8 1224,823.8 1231.8,823.8 1239.8,802.8 1248.5,806 1256,813.8 1264,828.8 1271.8,823.5 1279.8,828.8 1287.8,821.8 1296,821.8 1304,807.8 1312.2,806.5 1320.2,806.5 1328,803.5 1336,809.8 1344,813.8 1351.8,820.2 1359.8,812.8 1367.8,813.8 1376,815 1384,819.8 1391.8,817.8 1399.8,834.8 1407.8,830.8 1416,834.8" fill="none" stroke="#1e90ff" stroke-width="1" />
</g>
<text x="-6" y="764" font-size="9.2" fill="#000" textLength="68.5" lengthAdjust="spacingAndGlyphs" stroke="#000" stroke-width="0.22">RSI(14) 51.9350</text>
<text x="1652.6" y="762" font-size="9.2" fill="#000" textLength="14.5" lengthAdjust="spacingAndGlyphs" stroke="#000" stroke-width="0.22">100</text>
<text x="1652.6" y="791" font-size="9.2" fill="#000" textLength="9.7" lengthAdjust="spacingAndGlyphs" stroke="#000" stroke-width="0.22">80</text>
<text x="1652.6" y="842" font-size="9.2" fill="#000" textLength="9.7" lengthAdjust="spacingAndGlyphs" stroke="#000" stroke-width="0.22">50</text>
<text x="1652.6" y="903" font-size="9.2" fill="#000" textLength="9.7" lengthAdjust="spacingAndGlyphs" stroke="#000" stroke-width="0.22">15</text>
<text x="1652.6" y="922" font-size="9.2" fill="#000" textLength="4.8" lengthAdjust="spacingAndGlyphs" stroke="#000" stroke-width="0.22">0</text>
<text x="-10" y="938" font-size="9.2" fill="#000" textLength="47" lengthAdjust="spacingAndGlyphs" stroke="#000" stroke-width="0.22">27 Jul 2021</text>
<text x="53.8" y="938" font-size="9.2" fill="#000" textLength="50" lengthAdjust="spacingAndGlyphs" stroke="#000" stroke-width="0.22">28 Jul 12:00</text>
<text x="117.8" y="938" font-size="9.2" fill="#000" textLength="50" lengthAdjust="spacingAndGlyphs" stroke="#000" stroke-width="0.22">29 Jul 20:00</text>
<text x="181.8" y="938" font-size="9.2" fill="#000" textLength="50.5" lengthAdjust="spacingAndGlyphs" stroke="#000" stroke-width="0.22">2 Aug 04:00</text>
<text x="245.8" y="938" font-size="9.2" fill="#000" textLength="50.5" lengthAdjust="spacingAndGlyphs" stroke="#000" stroke-width="0.22">3 Aug 12:00</text>
<text x="309.8" y="938" font-size="9.2" fill="#000" textLength="50.5" lengthAdjust="spacingAndGlyphs" stroke="#000" stroke-width="0.22">4 Aug 20:00</text>
<text x="373.8" y="938" font-size="9.2" fill="#000" textLength="50.5" lengthAdjust="spacingAndGlyphs" stroke="#000" stroke-width="0.22">6 Aug 04:00</text>
<text x="437.8" y="938" font-size="9.2" fill="#000" textLength="50.5" lengthAdjust="spacingAndGlyphs" stroke="#000" stroke-width="0.22">9 Aug 12:00</text>
<text x="501.8" y="938" font-size="9.2" fill="#000" textLength="56" lengthAdjust="spacingAndGlyphs" stroke="#000" stroke-width="0.22">10 Aug 20:00</text>
<text x="565.8" y="938" font-size="9.2" fill="#000" textLength="56" lengthAdjust="spacingAndGlyphs" stroke="#000" stroke-width="0.22">12 Aug 04:00</text>
<text x="629.8" y="938" font-size="9.2" fill="#000" textLength="56" lengthAdjust="spacingAndGlyphs" stroke="#000" stroke-width="0.22">13 Aug 12:00</text>
<text x="693.8" y="938" font-size="9.2" fill="#000" textLength="56" lengthAdjust="spacingAndGlyphs" stroke="#000" stroke-width="0.22">16 Aug 20:00</text>
<text x="757.8" y="938" font-size="9.2" fill="#000" textLength="56" lengthAdjust="spacingAndGlyphs" stroke="#000" stroke-width="0.22">18 Aug 04:00</text>
<text x="821.8" y="938" font-size="9.2" fill="#000" textLength="56" lengthAdjust="spacingAndGlyphs" stroke="#000" stroke-width="0.22">19 Aug 12:00</text>
<text x="885.8" y="938" font-size="9.2" fill="#000" textLength="56" lengthAdjust="spacingAndGlyphs" stroke="#000" stroke-width="0.22">22 Aug 23:00</text>
<text x="949.8" y="938" font-size="9.2" fill="#000" textLength="56" lengthAdjust="spacingAndGlyphs" stroke="#000" stroke-width="0.22">24 Aug 04:00</text>
<text x="1013.8" y="938" font-size="9.2" fill="#000" textLength="56" lengthAdjust="spacingAndGlyphs" stroke="#000" stroke-width="0.22">25 Aug 12:00</text>
<text x="1077.8" y="938" font-size="9.2" fill="#000" textLength="56" lengthAdjust="spacingAndGlyphs" stroke="#000" stroke-width="0.22">26 Aug 20:00</text>
<text x="1141.8" y="938" font-size="9.2" fill="#000" textLength="56" lengthAdjust="spacingAndGlyphs" stroke="#000" stroke-width="0.22">30 Aug 04:00</text>
<text x="1205.8" y="938" font-size="9.2" fill="#000" textLength="56" lengthAdjust="spacingAndGlyphs" stroke="#000" stroke-width="0.22">31 Aug 12:00</text>
<text x="1269.8" y="938" font-size="9.2" fill="#000" textLength="49.5" lengthAdjust="spacingAndGlyphs" stroke="#000" stroke-width="0.22">1 Sep 20:00</text>
<text x="1333.8" y="938" font-size="9.2" fill="#000" textLength="49.5" lengthAdjust="spacingAndGlyphs" stroke="#000" stroke-width="0.22">3 Sep 04:00</text>
<text x="1397.8" y="938" font-size="9.2" fill="#000" textLength="49.5" lengthAdjust="spacingAndGlyphs" stroke="#000" stroke-width="0.22">6 Sep 12:00</text>
<line x1="1356.7" y1="609" x2="1409.8" y2="624.2" stroke="#ff0000" stroke-width="3.0"/><polygon points="1418.5,626.7 1406.5,628.5 1409.3,618.9" fill="#ff0000"/>
<line x1="1320.5" y1="805.5" x2="1410.5" y2="835.6" stroke="#ff0000" stroke-width="3.0"/><polygon points="1419,838.5 1407,839.7 1410.2,830.3" fill="#ff0000"/>
<g shape-rendering="crispEdges">
<rect x="0" y="0" width="1696" height="20" fill="#f0f0f0"/>
<rect x="0" y="19" width="1696" height="1" fill="#dcdcdc"/>
<rect x="0" y="20" width="1696" height="1" fill="#b4b4b4"/>
<rect x="0" y="21" width="1696" height="1" fill="#848484"/>
<rect x="1695" y="22" width="1" height="921" fill="#e8e8e8"/>
<rect x="285" y="0" width="24" height="18" fill="#f8f8f8"/>
<rect x="284" y="0" width="1" height="18" fill="#a0a0a0"/>
<rect x="437" y="0" width="24" height="18" fill="#f8f8f8"/>
<rect x="436" y="0" width="1" height="18" fill="#a0a0a0"/>
<rect x="465" y="0" width="24" height="18" fill="#f8f8f8"/>
<rect x="464" y="0" width="1" height="18" fill="#a0a0a0"/>
<rect x="625" y="0" width="24" height="18" fill="#f8f8f8"/>
<rect x="624" y="0" width="1" height="18" fill="#a0a0a0"/>
<rect x="1071" y="0" width="24" height="18" fill="#f8f8f8"/>
<rect x="1070" y="0" width="1" height="18" fill="#a0a0a0"/>
<rect x="10" y="1" width="1" height="16" fill="#a0a0a0"/>
<rect x="341" y="1" width="1" height="16" fill="#a0a0a0"/>
<rect x="431" y="1" width="1" height="16" fill="#a0a0a0"/>
<rect x="493" y="1" width="1" height="16" fill="#a0a0a0"/>
<rect x="681" y="1" width="1" height="16" fill="#a0a0a0"/>
<rect x="246" y="0" width="1" height="20" fill="#a8a8a8"/><rect x="247" y="0" width="1" height="20" fill="#fafafa"/>
<rect x="614" y="0" width="1" height="20" fill="#a8a8a8"/><rect x="615" y="0" width="1" height="20" fill="#fafafa"/>
<rect x="920" y="0" width="1" height="20" fill="#a8a8a8"/><rect x="921" y="0" width="1" height="20" fill="#fafafa"/>
<rect x="1181" y="0" width="1" height="20" fill="#a8a8a8"/><rect x="1182" y="0" width="1" height="20" fill="#fafafa"/>
<rect x="250" y="1" width="3" height="1" fill="#b0b0b0"/>
<rect x="250" y="3" width="3" height="1" fill="#b0b0b0"/>
<rect x="250" y="5" width="3" height="1" fill="#b0b0b0"/>
<rect x="250" y="7" width="3" height="1" fill="#b0b0b0"/>
<rect x="250" y="9" width="3" height="1" fill="#b0b0b0"/>
<rect x="250" y="11" width="3" height="1" fill="#b0b0b0"/>
<rect x="250" y="13" width="3" height="1" fill="#b0b0b0"/>
<rect x="250" y="15" width="3" height="1" fill="#b0b0b0"/>
<rect x="617" y="1" width="3" height="1" fill="#b0b0b0"/>
<rect x="617" y="3" width="3" height="1" fill="#b0b0b0"/>
<rect x="617" y="5" width="3" height="1" fill="#b0b0b0"/>
<rect x="617" y="7" width="3" height="1" fill="#b0b0b0"/>
<rect x="617" y="9" width="3" height="1" fill="#b0b0b0"/>
<rect x="617" y="11" width="3" height="1" fill="#b0b0b0"/>
<rect x="617" y="13" width="3" height="1" fill="#b0b0b0"/>
<rect x="617" y="15" width="3" height="1" fill="#b0b0b0"/>
<rect x="924" y="1" width="3" height="1" fill="#b0b0b0"/>
<rect x="924" y="3" width="3" height="1" fill="#b0b0b0"/>
<rect x="924" y="5" width="3" height="1" fill="#b0b0b0"/>
<rect x="924" y="7" width="3" height="1" fill="#b0b0b0"/>
<rect x="924" y="9" width="3" height="1" fill="#b0b0b0"/>
<rect x="924" y="11" width="3" height="1" fill="#b0b0b0"/>
<rect x="924" y="13" width="3" height="1" fill="#b0b0b0"/>
<rect x="924" y="15" width="3" height="1" fill="#b0b0b0"/>
</g>
<path d="M0 12.700l2.900 3.200-1.600 1.600-1.300-.6z" fill="#e0a020"/>
<g><path d="M21.500 0.500h7l3 3v10.500h-10z" fill="#fff" stroke="#808080" stroke-width="1"/><path d="M28.500 0.500v3h3" fill="#e4e4e4" stroke="#808080" stroke-width="0.8"/><path d="M22.800 3h2.600M22.800 5h4M22.800 6.700h5M22.800 8.500h4M22.800 10.200h2" stroke="#707070" stroke-width="1"/><path d="M28 6.300h4.100v3.500h3.600v4.200h-3.600v3.500h-4.100v-3.500h-3.600v-4.200h3.600z" fill="url(#gplus)" stroke="#0c8c0c" stroke-width="0.8"/></g>
<text x="38.5" y="11.1" font-size="12" fill="#000" stroke="#000" stroke-width="0.26" textLength="36" lengthAdjust="spacing" style="font-family:'Liberation Sans','Noto Sans CJK SC',sans-serif">新订单</text>
<g><path d="M87 9.700l8.600 4.500 7.600-5.100v1.600l-7.700 5.300-8.500-4.700z" fill="#b87c14" stroke="#9c660a" stroke-width="0.5"/><path d="M87 9.700l5.200-8.400 11 7.800-7.600 5.100z" fill="url(#gbook)" stroke="#b07c10" stroke-width="0.7"/><path d="M89.300 9l3.800-6" stroke="#fdf0b0" stroke-width="1.200" opacity="0.8"/></g>
<g><rect x="118" y="0.5" width="10.5" height="11" rx="1" fill="#5aa0e8" stroke="#2a62b8" stroke-width="0.8"/><rect x="121" y="3" width="6" height="2.2" fill="#d8ecff"/><rect x="121" y="6.3" width="6" height="2" fill="#b8d8f8"/><path d="M117.5 15.5a2.6 2.6 0 0 1 0.6-5.1a3.6 3.6 0 0 1 6.6-1a3 3 0 0 1 4.4 2.4a2.1 2.1 0 0 1-0.6 3.9z" fill="#f2f6fc" stroke="#8aa0c4" stroke-width="0.9"/></g>
<g fill="none"><path d="M151 15.300a7.500 7.500 0 0 1 0-15" stroke="#9db6e2" stroke-width="1.200"/><path d="M151 0.300a7.500 7.500 0 0 1 0 15" stroke="#9ccf9c" stroke-width="1.200"/><path d="M151 12.500a4.700 4.700 0 0 1 0-9.400" stroke="#4f7fd6" stroke-width="1.300"/><path d="M151 3.100a4.700 4.700 0 0 1 0 9.400" stroke="#5fb25f" stroke-width="1.300"/><path d="M151.300 7.800l0 7.600a7.500 7.500 0 0 0 5.800-3.400z" fill="#6cc06c" opacity="0.55"/><circle cx="151" cy="7.300" r="1.700" fill="#2a62d0"/><path d="M151.400 8v7.600" stroke="#22a022" stroke-width="1.500"/></g>
<g><ellipse cx="178.5" cy="4.2" rx="7.2" ry="2.8" fill="#58a0e0" stroke="#2a68b8" stroke-width="0.7"/><path d="M175 3.5a3.6 3.4 0 0 1 7 0z" fill="#78b8f0" stroke="#2a68b8" stroke-width="0.6"/><path d="M172 6.8h13l-2.500 7.500h-6.500z" fill="#f4cc50" stroke="#c89820" stroke-width="0.7"/><circle cx="183" cy="12" r="3.8" fill="#e02818" stroke="#a81008" stroke-width="0.6"/><rect x="181.5" y="10.5" width="3" height="3" fill="#fff"/></g>
<text x="190.5" y="11.1" font-size="12" fill="#000" stroke="#000" stroke-width="0.26" textLength="48" lengthAdjust="spacing" style="font-family:'Liberation Sans','Noto Sans CJK SC',sans-serif">自动交易</text>
<path d="M264.2 2.5v13.5M262 13.5h13.5" stroke="#505050" stroke-width="1.1" fill="none"/><path d="M264.2 1l-1.800 2.800h3.600zM276.5 13.5l-2.800-1.800v3.600z" fill="#505050"/><path d="M270.5 4v8M270.5 4.500h2.500M268 11.5h2.500" stroke="#18a018" stroke-width="1.4" fill="none"/>
<path d="M292.2 2.5v13.5M290 13.5h13.5" stroke="#505050" stroke-width="1.1" fill="none"/><path d="M292.2 1l-1.800 2.800h3.600zM304.5 13.5l-2.800-1.800v3.600z" fill="#505050"/><path d="M298.5 0.5v12" stroke="#18a018" stroke-width="1.2"/><rect x="296.5" y="2.5" width="4" height="7.5" fill="#30d030" stroke="#108810" stroke-width="0.8"/>
<path d="M320.2 2.5v13.5M318 13.5h13.5" stroke="#505050" stroke-width="1.1" fill="none"/><path d="M320.2 1l-1.800 2.800h3.600zM332.5 13.5l-2.800-1.800v3.600z" fill="#505050"/><path d="M320.5 10.5c2.500-3.500 4-5.500 6-5.500s3.500 2.500 5.500 4.500" stroke="#18a018" stroke-width="1.2" fill="none"/>
<path d="M359.5 9.5l5 5.500" stroke="#d8a828" stroke-width="3" stroke-linecap="round"/><path d="M359.3 9.5l5 5.500" stroke="#f8e080" stroke-width="1" stroke-linecap="round"/><circle cx="356" cy="6" r="5.200" fill="#e4f0fc" stroke="#4a88d0" stroke-width="1.3"/><path d="M353.5 6h5" stroke="#2a68c8" stroke-width="1.5"/><path d="M356 3.500v5" stroke="#2a68c8" stroke-width="1.5"/>
<path d="M387.5 9.5l5 5.500" stroke="#d8a828" stroke-width="3" stroke-linecap="round"/><path d="M387.3 9.5l5 5.500" stroke="#f8e080" stroke-width="1" stroke-linecap="round"/><circle cx="384" cy="6" r="5.200" fill="#e4f0fc" stroke="#4a88d0" stroke-width="1.3"/><path d="M381.5 6h5" stroke="#2a68c8" stroke-width="1.5"/>
<g stroke-width="0.6"><rect x="406.5" y="0.5" width="7" height="7" rx="1" fill="#48b428" stroke="#2a8010"/><rect x="414.500" y="0.5" width="7" height="7" rx="1" fill="#3a68d8" stroke="#1a40a8"/><rect x="406.5" y="8.5" width="7" height="7" rx="1" fill="#3a68d8" stroke="#1a40a8"/><rect x="414.500" y="8.5" width="7" height="7" rx="1" fill="#48b428" stroke="#2a8010"/><path d="M408 3.500h4v2.500h-4zM416 3.500h4v2.500h-4zM408 11.5h4v2.500h-4zM416 11.5h4v2.500h-4z" fill="#fff" stroke="none"/></g>
<path d="M444.2 2.5v13.5M442 13.5h13.5" stroke="#505050" stroke-width="1.1" fill="none"/><path d="M444.2 1l-1.800 2.800h3.600zM456.5 13.5l-2.800-1.800v3.600z" fill="#505050"/><path d="M449.500 4.500l3.500 3-3.500 3z" fill="none" stroke="#18a018" stroke-width="1.2"/>
<path d="M472.2 2.5v13.5M470 13.5h13.5" stroke="#505050" stroke-width="1.1" fill="none"/><path d="M472.2 1l-1.800 2.800h3.600zM484.5 13.5l-2.800-1.800v3.600z" fill="#505050"/><path d="M478.500 1.500v10" stroke="#2a68c8" stroke-width="1.2"/><path d="M479.500 7.500h4M479.500 7.500l2.500-2v4z" stroke="#d04010" stroke-width="0.9" fill="#d04010"/>
<g><path d="M504 1.500h5l3 3v7.500h-8z" fill="#fff" stroke="#808080"/><path d="M506 5v5M506 5h2M506 7.500h1.500" stroke="#606060" stroke-width="0.9" fill="none"/><path d="M508.500 10.200h3.200v-3.200h3.600v3.200h3.200v3.600h-3.200v3.200h-3.600v-3.200h-3.200z" fill="url(#gplus)" stroke="#0c8c0c" stroke-width="0.8"/></g><path d="M525 7l2.500 3 2.500-3z" fill="#000"/>
<g><circle cx="549" cy="8" r="7.300" fill="#2a78e0" stroke="#1a4cb0" stroke-width="0.8"/><circle cx="549" cy="8" r="5.600" fill="#f4f8fc"/><path d="M549 4.500v3.500h3" stroke="#404040" stroke-width="1" fill="none"/></g><path d="M564 7l2.500 3 2.500-3z" fill="#000"/>
<g><rect x="580.500" y="1.500" width="15" height="13" fill="#fff" stroke="#3a70c8" stroke-width="1"/><rect x="580.500" y="1.500" width="15" height="2.500" fill="#4a88e0"/><path d="M582 7.500l3-1 3 .5 3-1.500 3-.5" stroke="#c03018" stroke-width="1.100" fill="none"/><path d="M582 12.500l3-1.500 2.500 1 3-2 3 2" stroke="#18a030" stroke-width="1.100" fill="none"/></g><path d="M603 7l2.500 3 2.500-3z" fill="#000"/>
<path d="M632 1.500v12l2.800-2.800 2 4.500 1.800-.8-2-4.300h3.800z" fill="#404040"/>
<path d="M664.500 1v15M657 8.500h15" stroke="#505050" stroke-width="1.200" fill="none"/>
<path d="M698.500 2v13" stroke="#505050" stroke-width="1.300"/><path d="M721 8.500h12" stroke="#505050" stroke-width="1.300"/><path d="M748.500 14.500l13-12" stroke="#505050" stroke-width="1.300"/>
<path d="M776 12.500l11-9M778 15l11-9M780 8v6M783 6v6M786 3v6" stroke="#505050" stroke-width="1" fill="none"/><text x="786" y="17.5" font-size="6.5" fill="#303030" font-weight="bold" >E</text>
<path d="M804 2.500h13M804 5.500h13M804 8.500h13M804 12.500h9" stroke="#606060" stroke-width="1" stroke-dasharray="1 1" fill="none"/><text x="814" y="17.5" font-size="6.5" fill="#303030" font-weight="bold" >F</text>
<text x="834" y="13" font-size="12.5" fill="#505050" textLength="9" lengthAdjust="spacingAndGlyphs" >A</text>
<rect x="860.500" y="2.500" width="12" height="12" fill="none" stroke="#606060" stroke-width="1" stroke-dasharray="1 1"/><text x="862.8" y="13" font-size="12" fill="#404040" textLength="7.5" lengthAdjust="spacingAndGlyphs" >T</text>
<path d="M891.500 2l3 3-3 2.500-3-2.500zM898.500 9.500l3 3-3 2.500-3-2.500z" fill="#404040"/><path d="M891 9.500l2.500 2.500 5-6" stroke="#404040" stroke-width="1.300" fill="none"/><path d="M909 7l2.500 3 2.500-3z" fill="#000"/>
<text x="935.6" y="12" font-size="9.8" fill="#3c3c3c" textLength="12.5" lengthAdjust="spacingAndGlyphs" >M1</text>
<text x="963.7" y="12" font-size="9.8" fill="#3c3c3c" textLength="12.5" lengthAdjust="spacingAndGlyphs" >M5</text>
<text x="989.6" y="12" font-size="9.8" fill="#3c3c3c" textLength="17.9" lengthAdjust="spacingAndGlyphs" >M15</text>
<text x="1017.5" y="12" font-size="9.8" fill="#3c3c3c" textLength="17.5" lengthAdjust="spacingAndGlyphs" >M30</text>
<text x="1048.7" y="12" font-size="9.8" fill="#3c3c3c" textLength="11.3" lengthAdjust="spacingAndGlyphs" >H1</text>
<text x="1075.6" y="12" font-size="9.8" fill="#3c3c3c" textLength="12.4" lengthAdjust="spacingAndGlyphs" >H4</text>
<text x="1104.7" y="12" font-size="9.8" fill="#3c3c3c" textLength="11.3" lengthAdjust="spacingAndGlyphs" >D1</text>
<text x="1132.2" y="12" font-size="9.8" fill="#3c3c3c" textLength="13.8" lengthAdjust="spacingAndGlyphs" >W1</text>
<text x="1158.7" y="12" font-size="9.8" fill="#3c3c3c" textLength="14.3" lengthAdjust="spacingAndGlyphs" >MN</text>
<g fill="none"><circle cx="1651.500" cy="5.500" r="4" stroke="#2060d0" stroke-width="1.400" fill="#f4f8ff"/><path d="M1648.500 8.500l-4.500 4.200" stroke="#1a50c0" stroke-width="2.400" stroke-linecap="round"/></g>
<g><ellipse cx="1674" cy="10.500" rx="6" ry="4.800" fill="#e4e6ee" stroke="#b8bcc8" stroke-width="0.800"/><path d="M1670.500 14l0.500 3 3-2.500z" fill="#d0d4de"/><circle cx="1682.700" cy="6.200" r="8.300" fill="url(#gbadge)"/><text x="1679.7" y="10.2" font-size="11" fill="#fff" font-weight="bold" >1</text></g>
<rect x="0" y="32" width="1" height="2" fill="#000"/>
<text x="6" y="35.7" font-size="9.2" fill="#000" textLength="200.3" lengthAdjust="spacingAndGlyphs" stroke="#000" stroke-width="0.22">GBPJPY-,H4  151.925 151.953 151.836 151.857</text>
<g shape-rendering="crispEdges">
<rect x="0" y="44" width="213" height="57" fill="#fff"/>
<rect x="0" y="44" width="46" height="24" fill="url(#gsell)"/>
<rect x="161" y="44" width="52" height="24" fill="url(#gsell)"/>
<rect x="0" y="68" width="103" height="33" fill="url(#gtile)"/>
<rect x="105" y="68" width="108" height="33" fill="url(#gtile)"/>
<rect x="0" y="44" width="46" height="1" fill="#c41c1c"/><rect x="161" y="44" width="52" height="1" fill="#c41c1c"/>
<rect x="45" y="44" width="1" height="25" fill="#b81010"/><rect x="161" y="44" width="1" height="25" fill="#b81010"/><rect x="212" y="44" width="1" height="57" fill="#b81010"/>
<rect x="102" y="69" width="1" height="32" fill="#ac0808"/><rect x="105" y="69" width="1" height="32" fill="#ac0808"/>
<rect x="46" y="68" width="57" height="1" fill="#b81010"/><rect x="105" y="68" width="56" height="1" fill="#b81010"/>
<rect x="0" y="100" width="103" height="1" fill="#9c0000"/><rect x="105" y="100" width="108" height="1" fill="#9c0000"/>
<rect x="0" y="67" width="42" height="1" fill="#a00808"/><rect x="0" y="68" width="42" height="1" fill="#ec6060"/>
<rect x="165" y="67" width="44" height="1" fill="#a00808"/><rect x="165" y="68" width="44" height="1" fill="#ec6060"/>
<rect x="48.500" y="44.500" width="110" height="21" fill="#fff" stroke="#a4a8b0"/>
<rect x="50" y="46" width="19" height="7" fill="#f0f0f2"/><rect x="50" y="53" width="19" height="11" fill="url(#gbtn)"/><rect x="69" y="45" width="1" height="20" fill="#b0b4bc"/>
<rect x="139" y="46" width="19" height="7" fill="#f0f0f2"/><rect x="139" y="53" width="19" height="11" fill="url(#gbtn)"/><rect x="137" y="45" width="1" height="20" fill="#b0b4bc"/>
</g>
<path d="M56 53.300h5.400l-2.700 3.100z" fill="#4858c0"/><path d="M144.700 56.400h5.400l-2.700-3.100z" fill="#4858c0"/>
<text x="6.4" y="60" font-size="12" fill="#fff" textLength="25.2" lengthAdjust="spacingAndGlyphs" >SELL</text>
<text x="174.9" y="60" font-size="12" fill="#fff" textLength="23.2" lengthAdjust="spacingAndGlyphs" >BUY</text>
<text x="110.8" y="58.8" font-size="12" fill="#000" textLength="23.2" lengthAdjust="spacingAndGlyphs" >1.00</text>
<text x="17.3" y="96" font-size="12" fill="#fff" textLength="20.5" lengthAdjust="spacingAndGlyphs" font-weight="bold" >151</text>
<text x="42" y="96" font-size="33.5" fill="#fff" textLength="33.5" lengthAdjust="spacingAndGlyphs" >85</text>
<text x="81" y="80" font-size="12" fill="#fff" textLength="6.5" lengthAdjust="spacingAndGlyphs" font-weight="bold" >7</text>
<text x="127.4" y="96" font-size="12" fill="#fff" textLength="20.2" lengthAdjust="spacingAndGlyphs" font-weight="bold" >152</text>
<text x="153" y="96" font-size="33.5" fill="#fff" textLength="33.8" lengthAdjust="spacingAndGlyphs" >15</text>
<text x="192.2" y="80" font-size="12" fill="#fff" textLength="6.2" lengthAdjust="spacingAndGlyphs" font-weight="bold" >7</text>
</svg></body></html>
